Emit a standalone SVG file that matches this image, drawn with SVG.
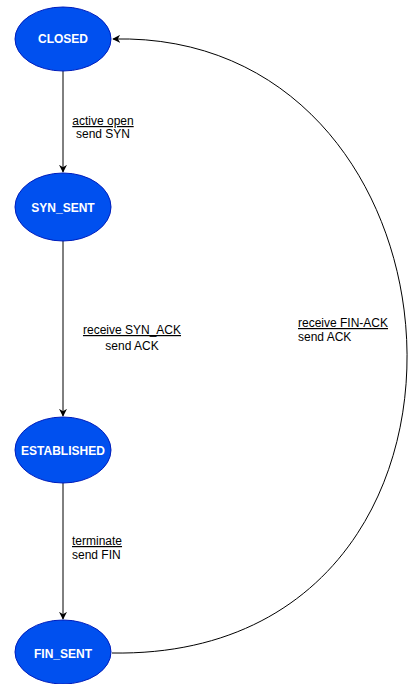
<svg xmlns="http://www.w3.org/2000/svg" width="409" height="684" viewBox="0 0 409 684">
  <style>
    .state ellipse { fill: #0050ef; stroke: #001dbc; stroke-width: 1; }
    .state text { font-family: "Liberation Sans", Arial, sans-serif; font-size: 12px; font-weight: bold; fill: #ffffff; text-anchor: middle; dominant-baseline: central; }
    .edge { fill: none; stroke: #000000; stroke-width: 1; }
    .lbl { font-family: "Liberation Sans", Arial, sans-serif; font-size: 12px; fill: #000000; }
    .u { text-decoration: underline; }
  </style>
  <defs>
    <marker id="arrow" viewBox="0 0 10 10" refX="9" refY="5" markerWidth="8" markerHeight="8" orient="auto" markerUnits="userSpaceOnUse">
      <path d="M0,0 L10,5 L0,10 L3,5 Z" fill="#000000"/>
    </marker>
  </defs>
  <rect width="409" height="684" fill="#ffffff"/>

  <g id="connectors">
    <path class="edge" d="M63,71 L63,172" marker-end="url(#arrow)"/>
    <path class="edge" d="M63,241 L63,416" marker-end="url(#arrow)"/>
    <path class="edge" d="M63,483 L63,619" marker-end="url(#arrow)"/>
    <path class="edge" d="M112,653 C525,660 485,30 113,39" marker-end="url(#arrow)"/>
    <text class="lbl" text-anchor="middle"><tspan class="u" x="103" y="125">active open</tspan><tspan x="103" y="138">send SYN</tspan></text>
    <text class="lbl" text-anchor="middle"><tspan class="u" x="132" y="334">receive SYN_ACK</tspan><tspan x="132" y="350">send ACK</tspan></text>
    <text class="lbl"><tspan class="u" x="72" y="545">terminate</tspan><tspan x="72" y="559">send FIN</tspan></text>
    <text class="lbl"><tspan class="u" x="298" y="327">receive FIN-ACK</tspan><tspan x="298" y="341">send ACK</tspan></text>
  </g>

  <g id="closed" class="state">
    <ellipse cx="63" cy="39" rx="48" ry="32"/>
    <text x="63" y="39">CLOSED</text>
  </g>
  <g id="syn_sent" class="state">
    <ellipse cx="63" cy="207" rx="48" ry="34"/>
    <text x="63" y="208">SYN_SENT</text>
  </g>
  <g id="established" class="state">
    <ellipse cx="63" cy="450" rx="48" ry="33"/>
    <text x="63" y="451">ESTABLISHED</text>
  </g>
  <g id="fin_sent" class="state">
    <ellipse cx="63" cy="652" rx="48" ry="32"/>
    <text x="63" y="654">FIN_SENT</text>
  </g>
</svg>
